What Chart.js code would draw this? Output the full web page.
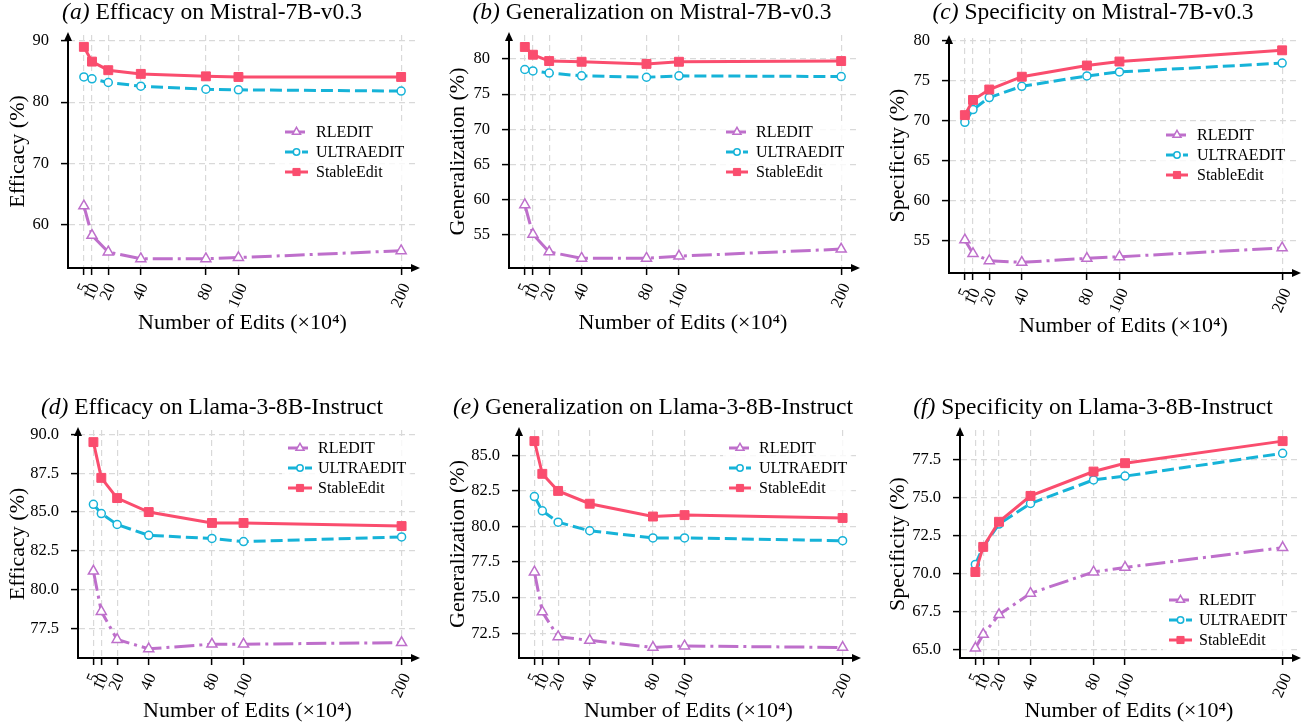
<!DOCTYPE html>
<html>
<head>
<meta charset="utf-8">
<script src="https://cdn.jsdelivr.net/npm/chart.js@4.4.1/dist/chart.umd.min.js"></script>
<style>
  html, body { margin: 0; padding: 0; background: #fff; }
  #wrap { position: relative; width: 1309px; height: 725px; overflow: hidden; }
  #wrap canvas { position: absolute; }
</style>
</head>
<body>
<div id="wrap">
  <canvas id="chart-a"></canvas>
  <canvas id="chart-b"></canvas>
  <canvas id="chart-c"></canvas>
  <canvas id="chart-d"></canvas>
  <canvas id="chart-e"></canvas>
  <canvas id="chart-f"></canvas>
</div>
<script>
// x values: number of edits (x10^4)
const editCounts = [5, 10, 20, 40, 80, 100, 200];
const methodNames = ['RLEDIT', 'ULTRAEDIT', 'StableEdit'];

// Mistral-7B-v0.3
const mistralEfficacyRledit = [63.1, 58.3, 55.6, 54.5, 54.5, 54.7, 55.8];
const mistralEfficacyUltraedit = [84.1, 83.8, 83.2, 82.6, 82.1, 82.0, 81.8];
const mistralEfficacyStableedit = [89.0, 86.6, 85.2, 84.6, 84.2, 84.1, 84.1];

const mistralGeneralRledit = [59.3, 55.1, 52.6, 51.7, 51.7, 52.0, 53.0];
const mistralGeneralUltraedit = [78.5, 78.3, 78.0, 77.6, 77.4, 77.6, 77.5];
const mistralGeneralStableedit = [81.7, 80.6, 79.7, 79.6, 79.3, 79.6, 79.7];

const mistralSpecificRledit = [55.1, 53.4, 52.5, 52.3, 52.8, 53.0, 54.1];
const mistralSpecificUltraedit = [69.8, 71.4, 72.9, 74.3, 75.6, 76.1, 77.2];
const mistralSpecificStableedit = [70.7, 72.6, 73.9, 75.5, 76.9, 77.4, 78.8];

// Llama-3-8B-Instruct
const llamaEfficacyRledit = [81.2, 78.6, 76.8, 76.2, 76.5, 76.5, 76.6];
const llamaEfficacyUltraedit = [85.5, 84.9, 84.2, 83.5, 83.3, 83.1, 83.4];
const llamaEfficacyStableedit = [89.5, 87.2, 85.9, 85.0, 84.3, 84.3, 84.1];

const llamaGeneralRledit = [76.8, 74.0, 72.25, 72.0, 71.5, 71.6, 71.5];
const llamaGeneralUltraedit = [82.1, 81.1, 80.3, 79.7, 79.2, 79.2, 79.0];
const llamaGeneralStableedit = [86.0, 83.7, 82.5, 81.6, 80.7, 80.8, 80.6];

const llamaSpecificRledit = [65.1, 66.0, 67.3, 68.7, 70.1, 70.4, 71.7];
const llamaSpecificUltraedit = [70.6, 71.75, 73.25, 74.6, 76.15, 76.4, 77.9];
const llamaSpecificStableedit = [70.1, 71.75, 73.4, 75.1, 76.7, 77.25, 78.7];

// y tick labels
const yTicksMistralEfficacy = [60, 70, 80, 90];
const yTicksMistralGeneral = [55, 60, 65, 70, 75, 80];
const yTicksMistralSpecific = [55, 60, 65, 70, 75, 80];
const yTicksLlamaEfficacy = [77.5, 80, 82.5, 85, 87.5, 90];
const yTicksLlamaGeneral = [72.5, 75, 77.5, 80, 82.5, 85];
const yTicksLlamaSpecific = [65, 67.5, 70, 72.5, 75, 77.5];

const FONT = '"Liberation Serif", "Times New Roman", serif';

const methodStyles = [
  { color: '#BE6FCB', dash: [20, 5, 3, 5], point: 'triangle', radius: 5.8, fill: '#ffffff', pw: 1.5 },
  { color: '#16B3D8', dash: [12, 5], point: 'circle', radius: 4, fill: '#ffffff', pw: 1.5 },
  { color: '#FA4D6E', dash: [], point: 'rect', radius: 6.3, fill: '#FA4D6E', pw: 1 }
];

// page layout: canvas box, plot area, title and legend spots
const panels = [
  { key: 'a', tag: '(a)', title: 'Efficacy on Mistral-7B-v0.3', yLabel: 'Efficacy (%)',
    series: [mistralEfficacyRledit, mistralEfficacyUltraedit, mistralEfficacyStableedit],
    yTicks: yTicksMistralEfficacy, decimals: 0, yMin: 53.0, yMax: 90.93,
    box: { left: 0, top: 0, width: 438, height: 345 }, area: { left: 68, right: 417, top: 35, bottom: 268 },
    titleX: 212, titleY: 19, xTitlePad: 9, legend: { x0: 285, x1: 308, tx: 316, y: 132 } },
  { key: 'b', tag: '(b)', title: 'Generalization on Mistral-7B-v0.3', yLabel: 'Generalization (%)',
    series: [mistralGeneralRledit, mistralGeneralUltraedit, mistralGeneralStableedit],
    yTicks: yTicksMistralGeneral, decimals: 0, yMin: 50.32, yMax: 83.4,
    box: { left: 440, top: 0, width: 438, height: 345 }, area: { left: 509, right: 857, top: 35, bottom: 268 },
    titleX: 652, titleY: 19, xTitlePad: 9, legend: { x0: 726, x1: 748, tx: 756, y: 132 } },
  { key: 'c', tag: '(c)', title: 'Specificity on Mistral-7B-v0.3', yLabel: 'Specificity (%)',
    series: [mistralSpecificRledit, mistralSpecificUltraedit, mistralSpecificStableedit],
    yTicks: yTicksMistralSpecific, decimals: 0, yMin: 50.97, yMax: 80.34,
    box: { left: 880, top: 0, width: 429, height: 345 }, area: { left: 949, right: 1298, top: 38, bottom: 273 },
    titleX: 1093, titleY: 19, xTitlePad: 6, legend: { x0: 1166, x1: 1188, tx: 1197, y: 135 } },
  { key: 'd', tag: '(d)', title: 'Efficacy on Llama-3-8B-Instruct', yLabel: 'Efficacy (%)',
    series: [llamaEfficacyRledit, llamaEfficacyUltraedit, llamaEfficacyStableedit],
    yTicks: yTicksLlamaEfficacy, decimals: 1, yMin: 75.61, yMax: 90.28,
    box: { left: 0, top: 385, width: 438, height: 340 }, area: { left: 78, right: 417, top: 430, bottom: 658 },
    titleX: 212, titleY: 414, xTitlePad: 1, legend: { x0: 288, x1: 312, tx: 318, y: 448 } },
  { key: 'e', tag: '(e)', title: 'Generalization on Llama-3-8B-Instruct', yLabel: 'Generalization (%)',
    series: [llamaGeneralRledit, llamaGeneralUltraedit, llamaGeneralStableedit],
    yTicks: yTicksLlamaGeneral, decimals: 1, yMin: 70.76, yMax: 86.78,
    box: { left: 440, top: 385, width: 438, height: 340 }, area: { left: 519, right: 858, top: 430, bottom: 658 },
    titleX: 653, titleY: 414, xTitlePad: 1, legend: { x0: 729, x1: 751, tx: 759, y: 448 } },
  { key: 'f', tag: '(f)', title: 'Specificity on Llama-3-8B-Instruct', yLabel: 'Specificity (%)',
    series: [llamaSpecificRledit, llamaSpecificUltraedit, llamaSpecificStableedit],
    yTicks: yTicksLlamaSpecific, decimals: 1, yMin: 64.45, yMax: 79.43,
    box: { left: 880, top: 385, width: 429, height: 340 }, area: { left: 960, right: 1298, top: 430, bottom: 658 },
    titleX: 1093, titleY: 414, xTitlePad: 1, legend: { x0: 1169, x1: 1192, tx: 1199, y: 600 } }
];

// marker shapes, same geometry as Chart.js point styles
function drawMarker(ctx, style, r, x, y) {
  ctx.beginPath();
  if (style === 'circle') {
    ctx.arc(x, y, r, 0, Math.PI * 2);
  } else if (style === 'triangle') {
    for (let k = 0; k < 3; k++) {
      const a = k * 2 * Math.PI / 3;
      const px = x + Math.sin(a) * r, py = y - Math.cos(a) * r;
      if (k === 0) ctx.moveTo(px, py); else ctx.lineTo(px, py);
    }
  } else {
    const h = r * Math.SQRT1_2;
    ctx.rect(x - h, y - h, 2 * h, 2 * h);
  }
  ctx.closePath();
  ctx.fill();
  ctx.stroke();
}

const panelTitle = {
  id: 'panelTitle',
  afterDraw(chart, args, opts) {
    const ctx = chart.ctx;
    ctx.save();
    const italic = 'italic 23.5px ' + FONT;
    const normal = '23.5px ' + FONT;
    ctx.font = italic;
    const w1 = ctx.measureText(opts.tag + ' ').width;
    ctx.font = normal;
    const w2 = ctx.measureText(opts.text).width;
    const x = opts.x - (w1 + w2) / 2;
    ctx.fillStyle = '#000';
    ctx.textAlign = 'left';
    ctx.textBaseline = 'alphabetic';
    ctx.font = italic;
    ctx.fillText(opts.tag + ' ', x, opts.y);
    ctx.font = normal;
    ctx.fillText(opts.text, x + w1, opts.y);
    ctx.restore();
  }
};

const panelLegend = {
  id: 'panelLegend',
  afterDraw(chart, args, opts) {
    const ctx = chart.ctx;
    const sets = chart.data.datasets;
    ctx.save();
    ctx.font = '16px ' + FONT;
    let textW = 0;
    sets.forEach(ds => { textW = Math.max(textW, ctx.measureText(ds.label).width); });
    ctx.fillStyle = 'rgba(255,255,255,0.8)';
    ctx.fillRect(opts.x0 - 6, opts.y - 11, opts.tx - opts.x0 + textW + 10, opts.gap * (sets.length - 1) + 22);
    sets.forEach((ds, i) => {
      const y = opts.y + i * opts.gap;
      ctx.strokeStyle = ds.borderColor;
      ctx.lineWidth = ds.borderWidth;
      ctx.setLineDash(ds.borderDash);
      ctx.beginPath();
      ctx.moveTo(opts.x0, y);
      ctx.lineTo(opts.x1, y);
      ctx.stroke();
      ctx.setLineDash([]);
      ctx.fillStyle = ds.pointBackgroundColor;
      ctx.lineWidth = ds.pointBorderWidth;
      drawMarker(ctx, ds.pointStyle, ds.pointRadius * 0.8, (opts.x0 + opts.x1) / 2, y);
      ctx.fillStyle = '#000';
      ctx.textAlign = 'left';
      ctx.textBaseline = 'middle';
      ctx.fillText(ds.label, opts.tx, y + 1);
    });
    ctx.restore();
  }
};

// rotated x tick labels, centred under each tick
const xTickLabels = {
  id: 'xTickLabels',
  afterDraw(chart, args, opts) {
    const sc = chart.scales.x;
    const ctx = chart.ctx;
    const th = opts.angle * Math.PI / 180;
    ctx.save();
    ctx.font = opts.size + 'px ' + FONT;
    ctx.fillStyle = '#000';
    ctx.textAlign = 'center';
    ctx.textBaseline = 'middle';
    const h = opts.size * 0.7;
    sc.ticks.forEach(t => {
      const label = String(t.value);
      const w = ctx.measureText(label).width;
      const boxH = w * Math.sin(th) + h * Math.cos(th);
      const x = sc.getPixelForValue(t.value);
      const y = chart.chartArea.bottom + opts.offset + boxH / 2;
      ctx.save();
      ctx.translate(x, y);
      ctx.rotate(-th);
      ctx.fillText(label, 0, 0);
      ctx.restore();
    });
    ctx.restore();
  }
};

const axisArrows = {
  id: 'axisArrows',
  afterDraw(chart) {
    const { left, right, top, bottom } = chart.chartArea;
    const ctx = chart.ctx;
    ctx.save();
    ctx.fillStyle = '#000';
    ctx.beginPath();
    ctx.moveTo(left, top - 3);
    ctx.lineTo(left - 4, top + 6);
    ctx.lineTo(left + 4, top + 6);
    ctx.closePath();
    ctx.fill();
    ctx.beginPath();
    ctx.moveTo(right + 3, bottom);
    ctx.lineTo(right - 6, bottom - 4);
    ctx.lineTo(right - 6, bottom + 4);
    ctx.closePath();
    ctx.fill();
    ctx.restore();
  }
};

function makeChart(p) {
  const canvas = document.getElementById('chart-' + p.key);
  canvas.width = p.box.width;
  canvas.height = p.box.height;
  canvas.style.left = p.box.left + 'px';
  canvas.style.top = p.box.top + 'px';
  canvas.style.width = p.box.width + 'px';
  canvas.style.height = p.box.height + 'px';
  const off = { x: p.box.left, y: p.box.top };

  const datasets = methodNames.map((name, i) => {
    const st = methodStyles[i];
    return {
      label: name,
      data: editCounts.map((x, j) => ({ x: x, y: p.series[i][j] })),
      borderColor: st.color,
      borderWidth: 3,
      borderDash: st.dash,
      pointStyle: st.point,
      pointRadius: st.radius,
      pointHoverRadius: st.radius,
      pointBackgroundColor: st.fill,
      pointBorderColor: st.color,
      pointBorderWidth: st.pw,
      tension: 0,
      fill: false,
      order: 2 - i
    };
  });

  new Chart(canvas, {
    type: 'line',
    data: { datasets: datasets },
    options: {
      responsive: false,
      animation: false,
      devicePixelRatio: 1,
      layout: {
        padding: {
          top: p.area.top - p.box.top,
          right: p.box.left + p.box.width - p.area.right,
          left: 0,
          bottom: 0
        }
      },
      plugins: {
        legend: { display: false },
        tooltip: { enabled: false },
        panelTitle: { tag: p.tag, text: p.title, x: p.titleX - off.x, y: p.titleY - off.y },
        panelLegend: { x0: p.legend.x0 - off.x, x1: p.legend.x1 - off.x, tx: p.legend.tx - off.x, y: p.legend.y - off.y, gap: 20 },
        xTickLabels: { angle: 66, size: 16.5, offset: 14 }
      },
      scales: {
        x: {
          type: 'linear',
          min: -4.75,
          max: 209.75,
          afterBuildTicks: s => { s.ticks = editCounts.map(v => ({ value: v })); },
          afterFit: s => { s.height = p.box.top + p.box.height - p.area.bottom; },
          ticks: { display: false, autoSkip: false },
          grid: { color: '#d9d9d9', lineWidth: 1.2, tickColor: '#000', tickLength: 7, tickWidth: 1.5 },
          border: { color: '#000', width: 2, dash: [6, 4] },
          title: {
            display: true, text: 'Number of Edits (×10⁴)', color: '#000',
            font: { family: FONT, size: 22 }, padding: { top: 0, bottom: p.xTitlePad }
          }
        },
        y: {
          type: 'linear',
          min: p.yMin,
          max: p.yMax,
          afterBuildTicks: s => { s.ticks = p.yTicks.map(v => ({ value: v })); },
          afterFit: s => { s.width = p.area.left - p.box.left; },
          ticks: {
            padding: 12, color: '#000',
            font: { family: FONT, size: 16.5 },
            callback: v => Number(v).toFixed(p.decimals)
          },
          grid: { color: '#d9d9d9', lineWidth: 1.2, tickColor: '#000', tickLength: 7, tickWidth: 1.5 },
          border: { color: '#000', width: 2, dash: [6, 4] },
          title: {
            display: true, text: p.yLabel, color: '#000',
            font: { family: FONT, size: 22 }, padding: { top: 5, bottom: 0 }
          }
        }
      }
    },
    plugins: [panelTitle, panelLegend, xTickLabels, axisArrows]
  });
}

panels.forEach(makeChart);
</script>
</body>
</html>
